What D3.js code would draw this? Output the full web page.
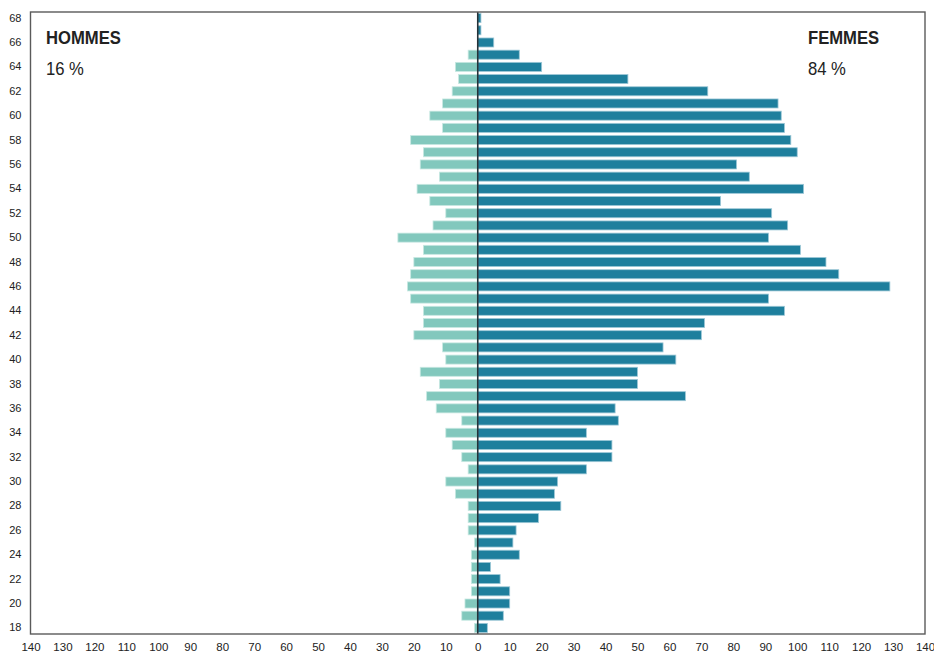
<!DOCTYPE html>
<html>
<head>
<meta charset="utf-8">
<script src="https://cdn.jsdelivr.net/npm/d3@7"></script>
<style>
  html, body { margin: 0; padding: 0; background: #fff; }
  svg { display: block; }
  text { font-family: "Liberation Sans", Arial, sans-serif; fill: #222; }
</style>
</head>
<body>
<svg id="chart" width="934" height="653"></svg>
<script>
// Ages 18..68
const ages = d3.range(18, 69);
// Men counts by age (18 -> 68)
const hommes = [1, 5, 4, 2, 2, 2, 2, 1, 3, 3,
                3, 7, 10, 3, 5, 8, 10, 5, 13, 16,
                12, 18, 10, 11, 20, 17, 17, 21, 22, 21,
                20, 17, 25, 14, 10, 15, 19, 12, 18, 17,
                21, 11, 15, 11, 8, 6, 7, 3, 0, 0, 0];
// Women counts by age (18 -> 68)
const femmes = [3, 8, 10, 10, 7, 4, 13, 11, 12, 19,
                26, 24, 25, 34, 42, 42, 34, 44, 43, 65,
                50, 50, 62, 58, 70, 71, 96, 91, 129, 113,
                109, 101, 91, 97, 92, 76, 102, 85, 81, 100,
                98, 96, 95, 94, 72, 47, 20, 13, 5, 1, 1];
const xTicks = d3.range(-140, 141, 10);
const yTickAges = d3.range(18, 69, 2);
const labels = { men: "HOMMES", women: "FEMMES", menPct: "16 %", womenPct: "84 %" };

const svg = d3.select("#chart");
const pLeft = 30.5, pRight = 925, pTop = 12, pBottom = 634;

const x = d3.scaleLinear().domain([-140, 140]).range([pLeft, pRight]);
const y = d3.scaleBand().domain(ages.slice().reverse()).range([pTop, pBottom])
  .paddingInner(0.26).paddingOuter(0.13);

const rows = ages.map((a, i) => ({ age: a, m: hommes[i], f: femmes[i] }));

// men bars
svg.append("g").selectAll("rect").data(rows.filter(d => d.m > 0)).join("rect")
  .attr("x", d => x(-d.m)).attr("y", d => y(d.age))
  .attr("width", d => x(0) - x(-d.m)).attr("height", y.bandwidth())
  .attr("fill", "#82c8bd").attr("stroke", "#c8e8e2").attr("stroke-width", 0.8);

// women bars
svg.append("g").selectAll("rect").data(rows.filter(d => d.f > 0)).join("rect")
  .attr("x", x(0)).attr("y", d => y(d.age))
  .attr("width", d => x(d.f) - x(0)).attr("height", y.bandwidth())
  .attr("fill", "#1e7f9d").attr("stroke", "#9cc7d6").attr("stroke-width", 0.8);

// center line
svg.append("line").attr("x1", x(0)).attr("x2", x(0)).attr("y1", pTop).attr("y2", pBottom)
  .attr("stroke", "#263238").attr("stroke-width", 1.6);

// frame
svg.append("rect").attr("x", pLeft).attr("y", pTop).attr("width", pRight - pLeft).attr("height", pBottom - pTop)
  .attr("fill", "none").attr("stroke", "#5a5a5a").attr("stroke-width", 1.4);

// x axis
const xAxis = d3.axisBottom(x).tickValues(xTicks).tickSize(0).tickPadding(9)
  .tickFormat(d => Math.abs(d));
const gx = svg.append("g").attr("transform", `translate(0,${pBottom})`).call(xAxis);
gx.select(".domain").remove();
gx.selectAll("text").attr("font-size", 11.5).attr("fill", "#222")
  .attr("font-family", '"Liberation Sans", Arial, sans-serif');

// y axis
const yAxis = d3.axisLeft(y).tickValues(yTickAges).tickSize(0).tickPadding(9);
const gy = svg.append("g").attr("transform", `translate(${pLeft},0)`).call(yAxis);
gy.select(".domain").remove();
gy.selectAll("text").attr("font-size", 11).attr("fill", "#222")
  .attr("font-family", '"Liberation Sans", Arial, sans-serif');

// labels
function label(txt, tx, ty, bold) {
  svg.append("text").text(txt)
    .attr("transform", `translate(${tx},${ty}) scale(0.9,1)`)
    .attr("font-size", 18.5).attr("font-weight", bold ? "bold" : "normal");
}
label(labels.men, 46, 44, true);
label(labels.menPct, 46, 75, false);
label(labels.women, 808, 44, true);
label(labels.womenPct, 808, 75, false);
</script>
</body>
</html>
